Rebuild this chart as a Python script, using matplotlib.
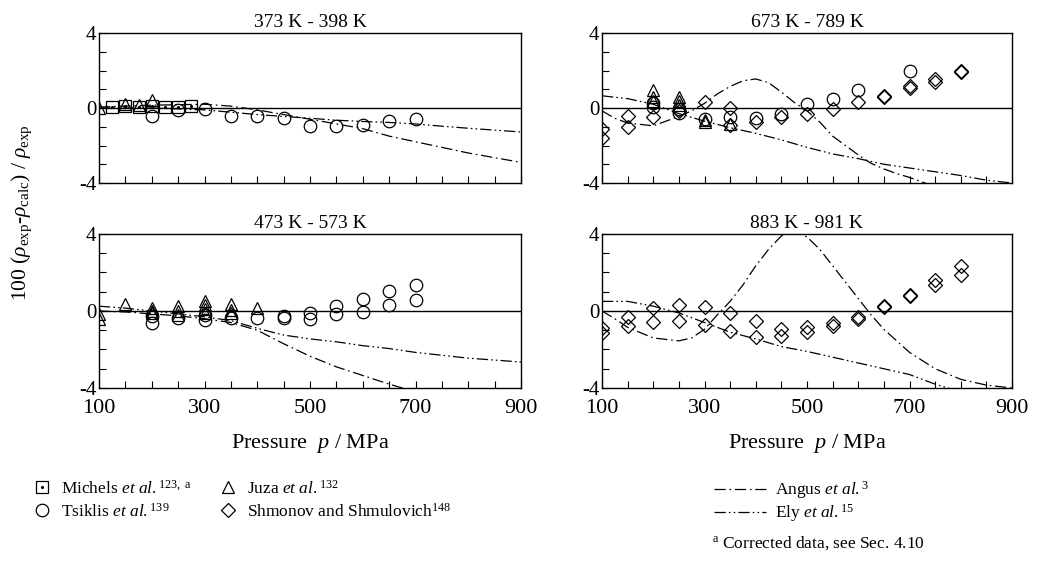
import matplotlib.pyplot as plt
import numpy as np
from matplotlib.lines import Line2D

plt.rcParams['font.family'] = ['Liberation Serif', 'DejaVu Serif']
plt.rcParams['mathtext.fontset'] = 'custom'
plt.rcParams['mathtext.rm'] = 'Liberation Serif'
plt.rcParams['mathtext.it'] = 'Liberation Serif:italic'
plt.rcParams['mathtext.bf'] = 'Liberation Serif:bold'
plt.rcParams['axes.unicode_minus'] = False

# ---- 373 K - 398 K ----
michels1_p = [125, 150, 175, 200, 225, 250, 275]
michels1_d = [0.05, 0.1, 0.05, 0.1, 0.05, 0.05, 0.1]
tsiklis1_p = [200, 250, 300, 350, 400, 450, 500, 550, 600, 650, 700]
tsiklis1_d = [-0.4, -0.1, -0.05, -0.4, -0.4, -0.55, -0.95, -0.95, -0.9, -0.7, -0.6]
juza1_p = [100, 150, 175, 200]
juza1_d = [0.0, 0.2, 0.15, 0.45]
angus1_p = [100, 200, 300, 350, 400, 450, 500, 550, 600, 650, 700, 750, 800, 850, 900]
angus1_d = [0.05, 0.15, 0.2, 0.1, -0.1, -0.35, -0.6, -0.85, -1.1, -1.5, -1.8, -2.1, -2.4, -2.65, -2.9]
ely1_p = [100, 200, 300, 400, 450, 500, 550, 600, 650, 700, 750, 800, 850, 900]
ely1_d = [0.0, 0.0, -0.1, -0.35, -0.45, -0.55, -0.65, -0.72, -0.77, -0.85, -0.97, -1.08, -1.18, -1.28]

# ---- 673 K - 789 K ----
shmonov2_p = [100, 100, 150, 150, 200, 250, 300, 350, 350, 400, 450, 500, 550,
              600, 650, 650, 700, 700, 750, 750, 800, 800]
shmonov2_d = [-1.1, -1.6, -0.45, -1.0, -0.5, -0.15, 0.3, 0.0, -0.9, -0.75, -0.5, -0.3, -0.05,
              0.3, 0.6, 0.65, 1.05, 1.2, 1.4, 1.55, 1.9, 1.95]
tsiklis2_p = [200, 200, 250, 250, 300, 350, 400, 450, 500, 550, 600, 700]
tsiklis2_d = [0.25, 0.05, -0.05, -0.25, -0.6, -0.5, -0.55, -0.3, 0.2, 0.5, 0.98, 1.95]
juza2_p = [200, 200, 200, 250, 250, 250, 300, 300, 350]
juza2_d = [0.95, 0.6, 0.35, 0.6, 0.35, 0.15, -0.65, -0.75, -0.85]
angus2_p = [100, 125, 150, 200, 250, 275, 300, 325, 350, 375, 400, 425, 450, 475, 500,
            525, 550, 575, 600, 625, 650, 675, 700, 725, 750]
angus2_d = [-0.15, -0.55, -0.8, -0.95, -0.45, -0.15, 0.25, 0.75, 1.15, 1.45, 1.55, 1.35, 0.85,
            0.3, -0.15, -0.75, -1.5, -2.0, -2.5, -2.95, -3.25, -3.5, -3.7, -3.95, -4.2]
ely2_p = [100, 150, 200, 250, 300, 350, 400, 450, 500, 550, 600, 650, 700, 750, 800, 850, 900]
ely2_d = [0.65, 0.5, 0.2, -0.3, -0.7, -1.05, -1.35, -1.7, -2.1, -2.45, -2.7, -3.0, -3.2,
          -3.4, -3.6, -3.85, -4.0]

# ---- 473 K - 573 K ----
juza3_p = [100, 100, 150, 200, 200, 200, 250, 250, 250, 300, 300, 300, 300, 350, 350, 350, 400]
juza3_d = [-0.15, -0.4, 0.35, 0.15, 0.0, -0.1, 0.25, 0.0, -0.2, 0.5, 0.3, 0.1, -0.1,
           0.35, 0.05, -0.1, 0.15]
tsiklis3_p = [200, 200, 250, 300, 300, 350, 400, 450, 450, 500, 500, 550, 550,
              600, 600, 650, 650, 700, 700]
tsiklis3_d = [-0.25, -0.6, -0.35, -0.2, -0.45, -0.35, -0.35, -0.25, -0.35, -0.1, -0.4,
              0.25, -0.15, 0.6, -0.05, 1.05, 0.3, 1.35, 0.55]
angus3_p = [100, 150, 200, 250, 300, 350, 400, 450, 500, 550, 600, 650, 700]
angus3_d = [0.0, -0.05, -0.15, -0.25, -0.4, -0.6, -1.0, -1.7, -2.35, -2.9, -3.35, -3.8, -4.2]
ely3_p = [100, 150, 200, 250, 300, 350, 400, 450, 500, 550, 600, 650, 700, 750, 800, 850, 900]
ely3_d = [0.25, 0.15, 0.0, -0.15, -0.3, -0.5, -0.9, -1.25, -1.45, -1.6, -1.8, -1.95,
          -2.15, -2.3, -2.45, -2.55, -2.65]

# ---- 883 K - 981 K ----
shmonov4_p = [100, 100, 150, 150, 200, 200, 250, 250, 300, 300, 350, 350, 400, 400,
              450, 450, 500, 500, 550, 550, 600, 600, 650, 650, 700, 700, 750, 750, 800, 800]
shmonov4_d = [-0.9, -1.15, -0.3, -0.8, 0.15, -0.55, 0.3, -0.5, 0.2, -0.75, -0.1, -1.05,
              -0.5, -1.35, -0.95, -1.3, -0.85, -1.1, -0.6, -0.8, -0.3, -0.4, 0.2, 0.25,
              0.8, 0.85, 1.35, 1.6, 1.85, 2.35]
angus4_p = [100, 125, 150, 200, 250, 275, 300, 325, 350, 375, 400, 425, 450, 475, 500,
            525, 550, 575, 600, 625, 650, 675, 700, 750, 800, 850, 900]
angus4_d = [0.0, -0.4, -0.85, -1.4, -1.55, -1.4, -0.95, -0.2, 0.5, 1.35, 2.35, 3.2, 3.9,
            4.15, 3.85, 3.2, 2.35, 1.5, 0.65, -0.2, -0.95, -1.55, -2.15, -3.0, -3.55, -3.85, -4.0]
ely4_p = [100, 150, 200, 250, 300, 350, 400, 450, 500, 550, 600, 650, 700, 750, 800]
ely4_d = [0.5, 0.5, 0.25, -0.1, -0.6, -1.1, -1.45, -1.85, -2.1, -2.4, -2.7, -3.0, -3.3, -3.8, -4.2]

titles = ['373 K - 398 K', '673 K - 789 K', '473 K - 573 K', '883 K - 981 K']

ANGUS_LS = (0, (9, 3, 1.3, 3))
ELY_LS = (0, (9, 2.5, 1.3, 2.5, 1.3, 2.5))
MS = 9

michels_style = dict(ls='none', marker='s', ms=8, mfc='none', mec='k', mew=0.9)
michels_dot = dict(ls='none', marker='.', ms=2.5, color='k')
tsiklis_style = dict(ls='none', marker='o', ms=MS, mfc='none', mec='k', mew=0.9)
juza_style = dict(ls='none', marker='^', ms=MS, mfc='none', mec='k', mew=0.9)
shmonov_style = dict(ls='none', marker='D', ms=7.5, mfc='none', mec='k', mew=0.9)

W, H = 1041, 582
fig = plt.figure(figsize=(W / 100, H / 100), dpi=100)


def px_axes(left, top, right, bottom):
    return fig.add_axes([left / W, 1 - bottom / H, (right - left) / W, (bottom - top) / H])


ax1 = px_axes(99, 33, 521, 183)
ax2 = px_axes(602, 33, 1012, 183)
ax3 = px_axes(99, 234, 521, 388)
ax4 = px_axes(602, 234, 1012, 388)
axes = [ax1, ax2, ax3, ax4]

# reference zero line
for ax in axes:
    ax.axhline(0, color='k', lw=1.0, zorder=1)

ax1.plot(angus1_p, angus1_d, color='k', lw=0.9, ls=ANGUS_LS)
ax1.plot(ely1_p, ely1_d, color='k', lw=0.9, ls=ELY_LS)
ax1.plot(tsiklis1_p, tsiklis1_d, **tsiklis_style)
ax1.plot(michels1_p, michels1_d, **michels_style)
ax1.plot(michels1_p, michels1_d, **michels_dot)
ax1.plot(juza1_p, juza1_d, **juza_style)

ax2.plot(angus2_p, angus2_d, color='k', lw=0.9, ls=ANGUS_LS)
ax2.plot(ely2_p, ely2_d, color='k', lw=0.9, ls=ELY_LS)
ax2.plot(tsiklis2_p, tsiklis2_d, **tsiklis_style)
ax2.plot(juza2_p, juza2_d, **juza_style)
ax2.plot(shmonov2_p, shmonov2_d, **shmonov_style)

ax3.plot(angus3_p, angus3_d, color='k', lw=0.9, ls=ANGUS_LS)
ax3.plot(ely3_p, ely3_d, color='k', lw=0.9, ls=ELY_LS)
ax3.plot(tsiklis3_p, tsiklis3_d, **tsiklis_style)
ax3.plot(juza3_p, juza3_d, **juza_style)

ax4.plot(angus4_p, angus4_d, color='k', lw=0.9, ls=ANGUS_LS)
ax4.plot(ely4_p, ely4_d, color='k', lw=0.9, ls=ELY_LS)
ax4.plot(shmonov4_p, shmonov4_d, **shmonov_style)

xticks = np.arange(100, 901, 50)
xlabels = [str(v) if v % 200 == 100 else '' for v in xticks]
yticks = np.arange(-4, 5, 1)
ylabels = [str(v) if v in (-4, 0, 4) else '' for v in yticks]

for i, ax in enumerate(axes):
    ax.set_xlim(100, 900)
    ax.set_ylim(-4, 4)
    ax.set_xticks(xticks)
    ax.set_yticks(yticks)
    ax.set_yticklabels(ylabels)
    ax.tick_params(direction='in', length=5, width=0.8, labelsize=15)
    ax.tick_params(axis='y', pad=2)
    ax.tick_params(axis='x', pad=8)
    for sp in ax.spines.values():
        sp.set_linewidth(1.0)
    ax.set_title(titles[i], fontsize=14, pad=4)
    if i < 2:
        ax.set_xticklabels([])
    else:
        ax.set_xticklabels(xlabels, fontsize=16)
        ax.set_xlabel('Pressure  $p$ / MPa', fontsize=16, labelpad=10)

fig.text(0.021, 0.635, r'100 $(\rho_{\mathrm{exp}}$-$\rho_{\mathrm{calc}})$ / $\rho_{\mathrm{exp}}$',
         rotation=90, va='center', ha='center', fontsize=15.5)

# legends
michels_handle = (Line2D([], [], **michels_style), Line2D([], [], **michels_dot))
h_tsiklis = Line2D([], [], **tsiklis_style)
h_juza = Line2D([], [], **juza_style)
h_shmonov = Line2D([], [], **shmonov_style)
h_angus = Line2D([], [], color='k', lw=0.9, ls=ANGUS_LS)
h_ely = Line2D([], [], color='k', lw=0.9, ls=ELY_LS)

leg_kw = dict(loc='upper left', frameon=False, fontsize=12.5,
              borderaxespad=0, borderpad=0)
fig.legend([michels_handle, h_tsiklis],
           [r'Michels $\mathit{et\ al.}^{123,\ \mathrm{a}}$', r'Tsiklis $\mathit{et\ al.}^{139}$'],
           bbox_to_anchor=(0.032, 0.176), handlelength=1.0, handletextpad=0.6,
           labelspacing=0.3, **leg_kw)
fig.legend([h_juza, h_shmonov],
           [r'Juza $\mathit{et\ al.}^{132}$', r'Shmonov and Shmulovich$^{148}$'],
           bbox_to_anchor=(0.211, 0.176), handlelength=1.0, handletextpad=0.6,
           labelspacing=0.3, **leg_kw)
fig.legend([h_angus, h_ely],
           [r'Angus $\mathit{et\ al.}^{3}$', r'Ely $\mathit{et\ al.}^{15}$'],
           bbox_to_anchor=(0.686, 0.176), handlelength=3.0, handletextpad=0.5,
           labelspacing=0.05, **leg_kw)
fig.text(0.684, 0.066, r'$^{\mathrm{a}}$ Corrected data, see Sec. 4.10', fontsize=12.5,
         va='center', ha='left')

fig.savefig('out.png', dpi=100)
